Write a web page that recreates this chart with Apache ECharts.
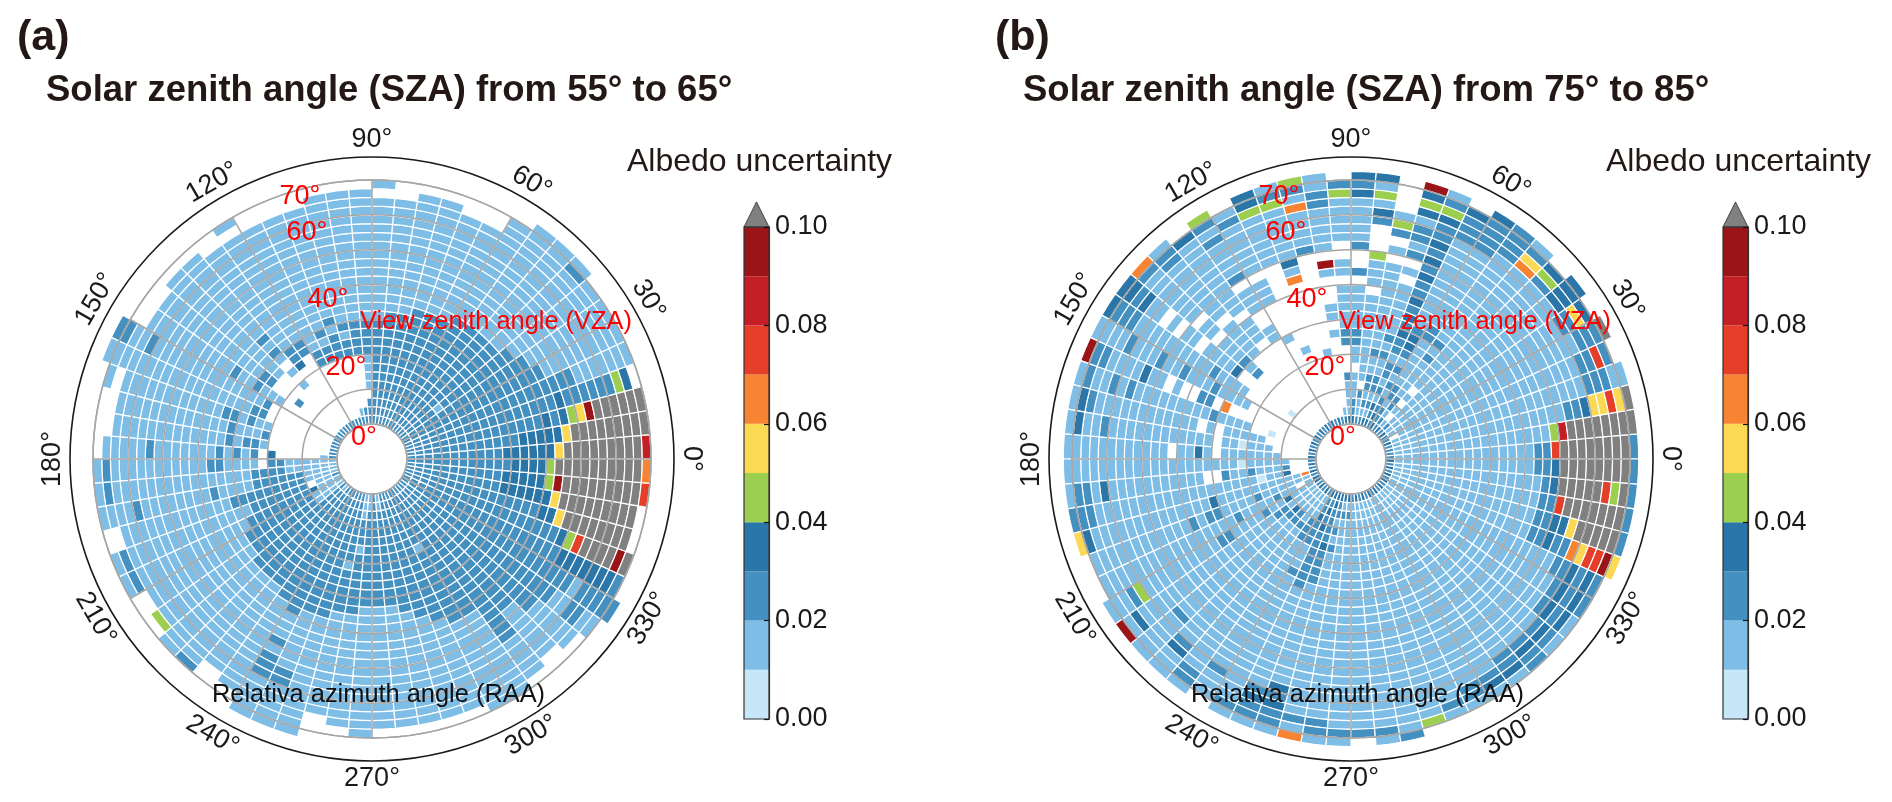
<!DOCTYPE html>
<html><head><meta charset="utf-8">
<style>html,body{margin:0;padding:0;background:#fff}#c{width:1892px;height:802px}</style>
<script src="https://cdn.jsdelivr.net/npm/echarts@6/dist/echarts.min.js"></script>
</head><body><div id="c"></div>
<script>
// Each row is one 5 degree RAA sector (row 0 = 0-5 deg); letters run outward in 2.5 degree VZA rings.
// letter = uncertainty class, optional number = repeat count, "." = no data.
const classValues = {a:0.005,b:0.015,c:0.025,d:0.035,e:0.045,f:0.055,o:0.065,r:0.075,s:0.085,k:0.095,g:0.12};
const binEdges = [0,0.01,0.02,0.03,0.04,0.05,0.06,0.07,0.08,0.09,0.10];
const binColors = ['#c6e7f8','#7dbde6','#4490c0','#2a76a8','#9ccf50','#fbd955','#f78433','#e53f29','#c41f26','#9b1518'];
const overColor = '#808080';
const angleTicks = [0,30,60,90,120,150,180,210,240,270,300,330];
const panelA = [
"c11 d6 f g9 s .","c13 d5 f g9 .","c16 d c d e f k g6 .","c18 d c6 e d .2","c21 b7 .","c18 b10 .","c17 b11 .","c5 b c10 b12 .",
"c15 b12 c b","c15 b14","c15 b14","c15 b13 .","c14 b12 .3","c14 b12 .3","c14 b13 .2","c13 b14 .2","c13 b13 .3","c12 b14 . b .",
"c3 . b4 c4 b15 .2","c2 .6 c4 b15 .2","c b .6 c2 b c b15 .2","c .7 c3 b c b13 .3","c .7 c2 b c b14 .3","c .7 c2 b16 .3",
"c .9 c2 b14 . b .","c .8 d c2 b14 .3","c .6 b . b . b c b c b12 .2","c .9 b17 .2","c .5 c .3 c2 b14 .3","c .7 b3 c b2 c b11 .3",
"c .8 c b14 c b2 c2","c .8 c2 b18","c .7 b2 c b c2 b12 . b .","c .7 c b3 c b13 .3","c .7 b c2 b c b13 .3","c b .5 d . c b c b c b7 c b5 .2",
"b6 c2 . b4 c2 b11 c b .","b6 c4 b16 c b .","b4 c6 b4 c b8 c b4 .","b4 c9 b13 .3","c b2 . c7 b15 c b .","b3 d c8 b14 c b .",
"b4 c9 b13 .3","b4 c9 b13 e .2","c14 b14 .","b c13 b13 c .","c14 b12 .3","c15 b12 .2","c16 b3 c b c3 b5","c15 b7 c2 b5",
"c15 b14","c8 b c5 b12 .3","b3 c3 b c7 b13 .2","b2 c11 b15 .","c13 b14 .2","b2 c11 b14 .2","c14 b13 .2","c15 b12 .2",
"c16 b11 .2","c7 b c9 b11 .","c17 b11 .","c22 b5 .2","c19 b7 .3","c21 b6 .2","c22 b2 c2 b2 .","c23 b c5",
"c20 d7 c .","c19 d e r g4 k g .","c16 d2 f g8 .2","c11 d6 f g9 .2","c11 d5 e k g9 r .","c12 d4 e g10 o ."
];
const panelB = [
"c b16 c2 r g8 c","c b18 e s g8","c b20 c2 d f2 r f g","c b23 c3 b2","d b23 c2 r c .","c . b23 c3 g","c b23 c2 f d .","d b24 d4",
"c2 b23 c e d .","d b . b . b . b18 o f c b","c2 b c2 b5 c b c b12 c4","d c2 b c2 b6 c2 b10 c4 d","c d c2 b c b c b c d2 c b11 c3 d",
"d c d b c b c2 b c2 d c d c d c2 d c d c d c2 d e c b","d b c b c2 b2 c b c b6 . b . c b c2 b d e d k","c b c b c2 b2 c b10 . b . c e b .",
"c b2 c . b b9 . b3 e .3 c d b e b d","d c2 b3 . b2 c2 b5 . c .2 c b5 d c d","d b4 c .3 c2 b5 . b2 .2 b5 e c .","d b .8 b . b2 .3 b k . b b4 c2 b2",
"c .7 b .11 c b4 o b c e","d .16 o b d b b5 e c b","c .8 b .10 b b5 e d2","d .10 b .4 b3 . b b5 c b .","c .11 b2 .2 b3 . c b4 c b c e",
"d .12 b b2 . b10 d .","c .11 b5 . b8 c2 b","d .9 c b c b3 . b2 . b7 c o","c .3 a .7 d b4 . b2 . b . b2 d c d2","d .9 b4 c b10 c3 d",
"c .8 b4 c b3 c b2 c b3 c b4","d .10 o . c2 .2 b . b2 d b4 c2 k","c .4 a .2 b4 c b9 c b c b2 c b","d .5 b5 . b . b12 c d b",
"c .4 b3 a b2 . b12 c b2 d b","d .3 b7 . b d b2 . b12","c .2 b5 a b20","d .2 c b3 c b2 c .2 b11 d b c2 b","c .2 d b2 a b19 c3",
"d o b10 d b14 d f","c b6 c b4 c2 b c b12 .","d b . b2 c b4 c b17 .","d b3 d b2 c b4 c2 b10 e c b3","c b4 c2 b19 d b k",
"d b3 d c b16 c b6","c b3 c2 b18 c d b3","d b4 c b20 c2 b","c b3 c3 b17 c b3 .","d c2 d c3 b3 c b16 c b","d c d c d c7 b12 c d c2 b",
"d2 c4 d c4 b12 d c d c2 b","d c2 b c b c b19 c b o","d b c b23 c2 b","d b c b24 c b","c b26 c .","d b26 c b","c b27 c","d b26 e .",
"c b25 c b .","d b24 c2 b .","c b24 c d b .","d b23 c2 d b .","c b23 c d c2 .","d b23 c d c b .","c b22 c d c d b .",
"d b22 c d c d c .","c b21 c2 d c d c .","d b17 c2 d c2 o f r2 k f","c b17 c2 d2 f g5 c","d b17 c2 r g7 c",
"c b17 c d g5 r e g c","d b16 c2 d g8 c"
];
const panelTitles = ['Solar zenith angle (SZA) from 55\u00b0 to 65\u00b0','Solar zenith angle (SZA) from 75\u00b0 to 85\u00b0'];
const panelTags = ['(a)','(b)'];
const vzaLabels = [['70\u00b0',-72,-262],['60\u00b0',-65,-226],['40\u00b0',-44,-159],['20\u00b0',-26,-91],['0\u00b0',-8,-21]];
const centers = [[372,459],[1351,459]];
const font = '"Liberation Sans", Arial, sans-serif';
const RING = 2.5, SECTOR = 5, OUTER = 76.6, LABEL_RING = 81.5;

function decode(rows){
  const out = [];
  rows.forEach((row,s)=>{
    let k = 0;
    row.replace(/\s/g,'').replace(/([a-z.])(\d*)/g,(m,ch,n)=>{
      const c = n ? +n : 1;
      for(let i=0;i<c;i++,k++){ if(ch!=='.') out.push([k*RING, s*SECTOR, classValues[ch]]); }
      return m;
    });
  });
  return out;
}
function colorOf(v){
  if(v>=0.1) return overColor;
  return binColors[Math.min(binColors.length-1,Math.floor(v/0.01+1e-9))];
}
function cellItem(params,api){
  const cs = params.coordSys, vza = api.value(0), raa = api.value(1);
  const p0 = api.coord([vza,raa]), p1 = api.coord([vza+RING,raa]), pa = api.coord([vza,raa+SECTOR]);
  const r0 = Math.hypot(p0[0]-cs.cx,p0[1]-cs.cy), r = Math.hypot(p1[0]-cs.cx,p1[1]-cs.cy);
  const start = Math.atan2(pa[1]-cs.cy,pa[0]-cs.cx);
  return {type:'sector',shape:{cx:cs.cx,cy:cs.cy,r0:r0,r:r,startAngle:start,endAngle:start+SECTOR*Math.PI/180,clockwise:true},
    style:{fill:colorOf(api.value(2)),stroke:'#fff',lineWidth:1.2}};
}
const polar=[],radiusAxis=[],angleAxis=[],grid=[],xAxis=[],yAxis=[],series=[],graphic=[];
[panelA,panelB].forEach((rows,i)=>{
  polar.push({center:centers[i],radius:[35,279]});
  radiusAxis.push({polarIndex:i,min:0,max:70,interval:10,z:5,axisLine:{show:false},axisTick:{show:false},axisLabel:{show:false},
    splitLine:{show:true,lineStyle:{color:'#a6a6a6',width:1.5}}});
  angleAxis.push({polarIndex:i,type:'value',min:0,max:360,interval:30,startAngle:0,clockwise:false,z:5,
    axisLine:{show:true,lineStyle:{color:'#a6a6a6',width:1.5}},axisTick:{show:false},axisLabel:{show:false},
    splitLine:{show:true,lineStyle:{color:'#a6a6a6',width:1.5}}});
  series.push({type:'custom',coordinateSystem:'polar',polarIndex:i,z:2,silent:true,animation:false,encode:{radius:0,angle:1},
    data:decode(rows),renderItem:cellItem});
  series.push({type:'custom',coordinateSystem:'polar',polarIndex:i,z:6,silent:true,animation:false,encode:{radius:0,angle:1},
    data:[[OUTER,0]],renderItem:(p,api)=>{const c=p.coordSys,q=api.coord([api.value(0),0]);
      return {type:'circle',shape:{cx:c.cx,cy:c.cy,r:Math.hypot(q[0]-c.cx,q[1]-c.cy)},style:{fill:'none',stroke:'#1a1a1a',lineWidth:1.6}};}});
  series.push({type:'custom',coordinateSystem:'polar',polarIndex:i,z:6,silent:true,animation:false,encode:{radius:0,angle:1},
    data:angleTicks.map(a=>[LABEL_RING,a]),renderItem:(p,api)=>{const a=api.value(1),q=api.coord([api.value(0),a]);
      const rot=(a<=180?a-90:a-270)*Math.PI/180;
      return {type:'text',x:q[0],y:q[1],rotation:rot,style:{text:a+'\u00b0',font:'27px '+font,fill:'#1a1a1a',textAlign:'center',textVerticalAlign:'middle'}};}});
  // colour bar
  const barLeft = i===0?744:1723;
  grid.push({left:barLeft,top:227,width:25,height:492,containLabel:false});
  xAxis.push({gridIndex:i,type:'value',min:0,max:1,show:false});
  yAxis.push({gridIndex:i,type:'value',min:0,max:0.1,interval:0.02,position:'right',z:6,
    axisLine:{show:true,onZero:false,lineStyle:{color:'#333',width:1.2}},axisTick:{show:true,inside:true,length:5,lineStyle:{color:'#111',width:1.2}},
    splitLine:{show:false},axisLabel:{color:'#1a1a1a',fontSize:27,fontFamily:font,margin:6,formatter:v=>v.toFixed(2)}});
  series.push({type:'custom',coordinateSystem:'cartesian2d',xAxisIndex:i,yAxisIndex:i,z:3,silent:true,animation:false,clip:false,encode:{x:0,y:1},
    data:binColors.map((c,j)=>[0,binEdges[j],binEdges[j+1],j]),
    renderItem:(p,api)=>{const a=api.coord([0,api.value(1)]),b=api.coord([1,api.value(2)]);
      return {type:'rect',shape:{x:a[0],y:b[1],width:b[0]-a[0],height:a[1]-b[1]},style:{fill:binColors[api.value(3)]}};}});
  series.push({type:'custom',coordinateSystem:'cartesian2d',xAxisIndex:i,yAxisIndex:i,z:4,silent:true,animation:false,clip:false,encode:{x:0,y:1},
    data:[[0,binEdges[0],binEdges[binEdges.length-1]]],
    renderItem:(p,api)=>{const a=api.coord([0,api.value(1)]),b=api.coord([1,api.value(2)]);
      return {type:'rect',shape:{x:a[0],y:b[1],width:b[0]-a[0],height:a[1]-b[1]},style:{fill:'none',stroke:'#333',lineWidth:1.2}};}});
  series.push({type:'custom',coordinateSystem:'cartesian2d',xAxisIndex:i,yAxisIndex:i,z:3,silent:true,animation:false,clip:false,encode:{x:0,y:1},
    data:[[0,0.1,0.1051]],
    renderItem:(p,api)=>{const a=api.coord([0,api.value(1)]),b=api.coord([1,api.value(1)]),t=api.coord([0.5,api.value(2)]);
      return {type:'polygon',shape:{points:[a,b,t]},style:{fill:overColor,stroke:'#444',lineWidth:1}};}});
  // texts
  const cx=centers[i][0], cy=centers[i][1], dx=cx-372;
  const txt=(t,x,y,f,c,al)=>graphic.push({type:'text',x:x,y:y,z:20,silent:true,style:{text:t,font:f+' '+font,fill:c,textAlign:al||'left',textVerticalAlign:'middle'}});
  txt(panelTags[i],17+(i?978:0),38,'bold 43px','#231815');
  txt(panelTitles[i],46+(i?977:0),91,'bold 36.5px','#231815');
  txt('Albedo uncertainty',627+dx,162,'32px','#231815');
  vzaLabels.forEach(l=>txt(l[0],cx+l[1],cy+l[2],'27px','#ff0000','center'));
  txt('View zenith angle (VZA)',cx-12,322,'25.4px','#ff0000');
  txt('Relativa azimuth angle (RAA)',cx-160,695,'25.4px','#111111');
});
const chart = echarts.init(document.getElementById('c'),null,{renderer:'canvas'});
chart.setOption({backgroundColor:'#fff',animation:false,polar,radiusAxis,angleAxis,grid,xAxis,yAxis,series,graphic:{elements:graphic}});
</script></body></html>
